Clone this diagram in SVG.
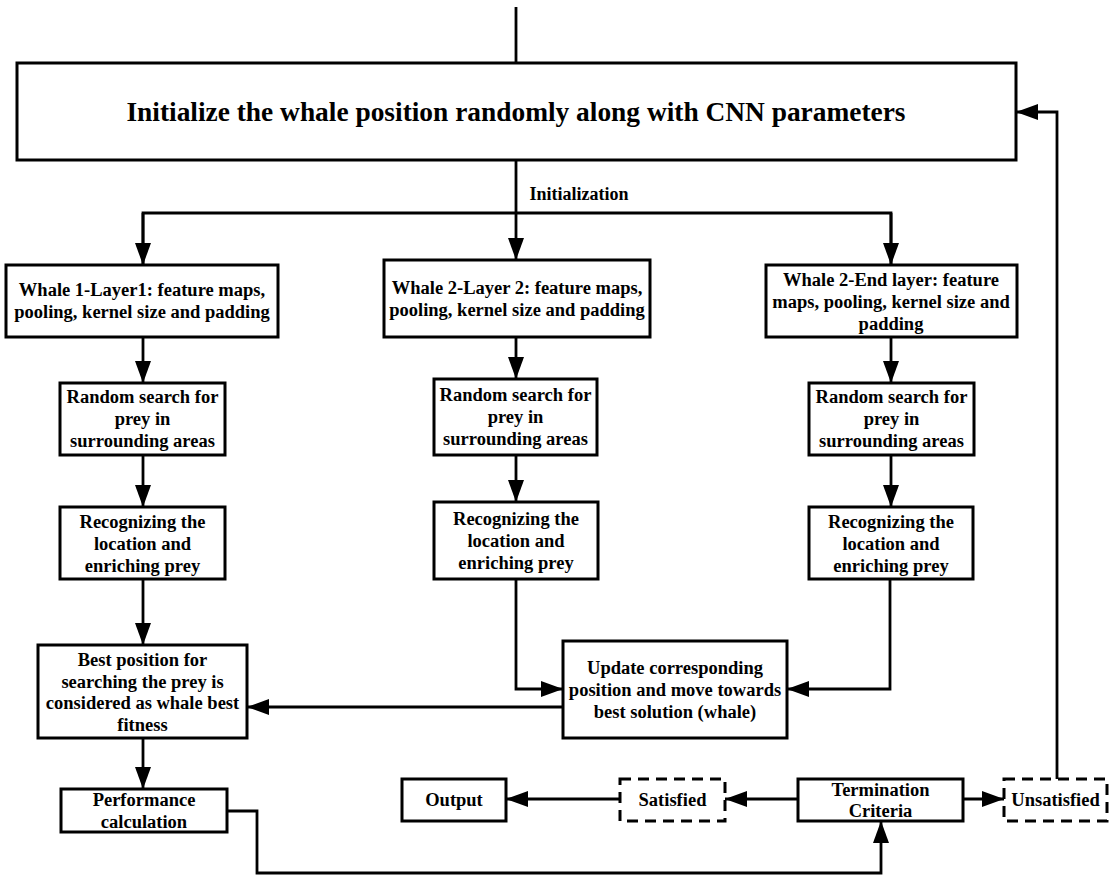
<svg xmlns="http://www.w3.org/2000/svg" width="1109" height="875" viewBox="0 0 1109 875">
<style>
.box{fill:#fff;stroke:#000;stroke-width:3}
.dash{fill:#fff;stroke:#000;stroke-width:3;stroke-dasharray:11 7}
.t{font-family:"Liberation Serif","Times New Roman",serif;font-weight:bold;font-size:18.5px;text-anchor:middle;fill:#000}
.title{font-size:27.4px}
.c{fill:none;stroke:#000;stroke-width:2.8}
</style>
<defs>
<marker id="ah" markerUnits="userSpaceOnUse" markerWidth="22" markerHeight="16" refX="22" refY="8" orient="auto">
<path d="M0,0 L22,8 L0,16 z" fill="#000"/>
</marker>
</defs>
<g id="connectors">
<line class="c" x1="516" y1="7" x2="516" y2="63"/>
<line class="c" x1="516" y1="160" x2="516" y2="260" marker-end="url(#ah)"/>
<polyline class="c" points="143,265 143,213 891,213 891,265"/>
<line class="c" x1="143" y1="213" x2="143" y2="265" marker-end="url(#ah)"/>
<line class="c" x1="891" y1="213" x2="891" y2="265" marker-end="url(#ah)"/>
<line class="c" x1="143" y1="337" x2="143" y2="383" marker-end="url(#ah)"/>
<line class="c" x1="143" y1="455" x2="143" y2="507" marker-end="url(#ah)"/>
<line class="c" x1="143" y1="579" x2="143" y2="645" marker-end="url(#ah)"/>
<line class="c" x1="143" y1="738" x2="143" y2="789" marker-end="url(#ah)"/>
<line class="c" x1="516" y1="337" x2="516" y2="379" marker-end="url(#ah)"/>
<line class="c" x1="516" y1="455" x2="516" y2="502" marker-end="url(#ah)"/>
<line class="c" x1="891" y1="337" x2="891" y2="383" marker-end="url(#ah)"/>
<line class="c" x1="891" y1="455" x2="891" y2="507" marker-end="url(#ah)"/>
<polyline class="c" points="516,579 516,689 563,689" marker-end="url(#ah)"/>
<polyline class="c" points="890,579 890,689 787,689" marker-end="url(#ah)"/>
<line class="c" x1="563" y1="707" x2="247" y2="707" marker-end="url(#ah)"/>
<polyline class="c" points="227,811 257,811 257,873 881,873 881,821" marker-end="url(#ah)"/>
<line class="c" x1="798" y1="799" x2="725" y2="799" marker-end="url(#ah)"/>
<line class="c" x1="620" y1="799" x2="506" y2="799" marker-end="url(#ah)"/>
<line class="c" x1="963" y1="799" x2="1004" y2="799" marker-end="url(#ah)"/>
<polyline class="c" points="1057,779 1057,112 1016,112" marker-end="url(#ah)"/>
<text class="t" x="579" y="200" style="font-size:18px">Initialization</text>
</g>
<g id="init">
<rect class="box" x="17" y="63" width="999" height="97"/>
<text class="t title" x="516" y="121">Initialize the whale position randomly along with CNN parameters</text>
</g>
<g id="whale1">
<rect class="box" x="6" y="265" width="272" height="72"/>
<text class="t" x="142" y="296">Whale 1-Layer1: feature maps,</text>
<text class="t" x="142" y="318">pooling, kernel size and padding</text>
</g>
<g id="whale2">
<rect class="box" x="384" y="260" width="266" height="77"/>
<text class="t" x="517" y="294">Whale 2-Layer 2: feature maps,</text>
<text class="t" x="517" y="316">pooling, kernel size and padding</text>
</g>
<g id="whale3">
<rect class="box" x="766" y="265" width="251" height="72"/>
<text class="t" x="891" y="286">Whale 2-End layer: feature</text>
<text class="t" x="891" y="308">maps, pooling, kernel size and</text>
<text class="t" x="891" y="330">padding</text>
</g>
<g id="random1">
<rect class="box" x="60" y="383" width="165" height="72"/>
<text class="t" x="142.5" y="403">Random search for</text>
<text class="t" x="142.5" y="425">prey in</text>
<text class="t" x="142.5" y="447">surrounding areas</text>
</g>
<g id="random2">
<rect class="box" x="434" y="379" width="163" height="76"/>
<text class="t" x="515.5" y="401">Random search for</text>
<text class="t" x="515.5" y="423">prey in</text>
<text class="t" x="515.5" y="445">surrounding areas</text>
</g>
<g id="random3">
<rect class="box" x="809" y="383" width="165" height="72"/>
<text class="t" x="891.5" y="403">Random search for</text>
<text class="t" x="891.5" y="425">prey in</text>
<text class="t" x="891.5" y="447">surrounding areas</text>
</g>
<g id="recog1">
<rect class="box" x="60" y="507" width="165" height="72"/>
<text class="t" x="142.5" y="528">Recognizing the</text>
<text class="t" x="142.5" y="550">location and</text>
<text class="t" x="142.5" y="572">enriching prey</text>
</g>
<g id="recog2">
<rect class="box" x="434" y="502" width="164" height="77"/>
<text class="t" x="516" y="525">Recognizing the</text>
<text class="t" x="516" y="547">location and</text>
<text class="t" x="516" y="569">enriching prey</text>
</g>
<g id="recog3">
<rect class="box" x="809" y="507" width="164" height="72"/>
<text class="t" x="891" y="528">Recognizing the</text>
<text class="t" x="891" y="550">location and</text>
<text class="t" x="891" y="572">enriching prey</text>
</g>
<g id="update">
<rect class="box" x="563" y="641" width="224" height="97"/>
<text class="t" x="675" y="674">Update corresponding</text>
<text class="t" x="675" y="696">position and move towards</text>
<text class="t" x="675" y="718">best solution (whale)</text>
</g>
<g id="best">
<rect class="box" x="38" y="645" width="209" height="93"/>
<text class="t" x="142.5" y="666">Best position for</text>
<text class="t" x="142.5" y="688">searching the prey is</text>
<text class="t" x="142.5" y="709">considered as whale best</text>
<text class="t" x="142.5" y="731">fitness</text>
</g>
<g id="perf">
<rect class="box" x="61" y="789" width="166" height="43"/>
<text class="t" x="144" y="806">Performance</text>
<text class="t" x="144" y="828">calculation</text>
</g>
<g id="output">
<rect class="box" x="402" y="779" width="104" height="42"/>
<text class="t" x="454" y="806">Output</text>
</g>
<g id="satisfied">
<rect class="dash" x="620" y="779" width="105" height="42"/>
<text class="t" x="672.5" y="806">Satisfied</text>
</g>
<g id="termination">
<rect class="box" x="798" y="779" width="165" height="42"/>
<text class="t" x="880.5" y="796">Termination</text>
<text class="t" x="880.5" y="817">Criteria</text>
</g>
<g id="unsatisfied">
<rect class="dash" x="1004" y="779" width="103" height="42"/>
<text class="t" x="1055.5" y="806">Unsatisfied</text>
</g>
</svg>
